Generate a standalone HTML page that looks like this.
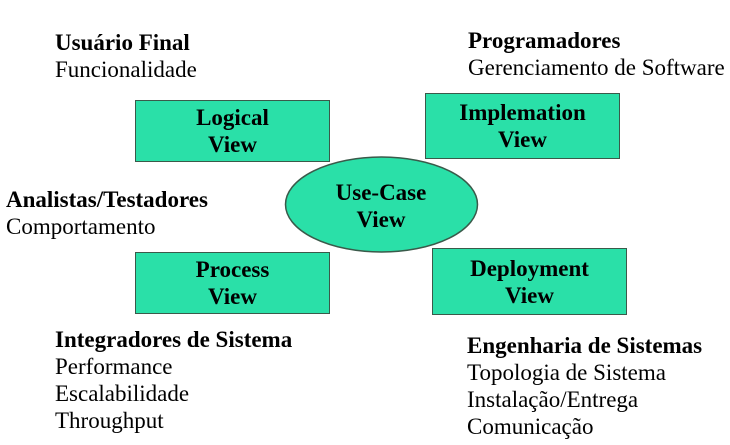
<!DOCTYPE html>
<html><head><meta charset="utf-8"><style>
html,body{margin:0;padding:0;background:#fff;}
body{width:730px;height:445px;position:relative;overflow:hidden;font-family:"Liberation Serif",serif;color:#000;}
.t{position:absolute;font-size:23px;line-height:27px;white-space:nowrap;}
.b{font-weight:bold;}
.box{position:absolute;background:#2ae0a8;border:1.5px solid #3a5a4a;box-sizing:border-box;display:flex;align-items:center;justify-content:center;text-align:center;font-weight:bold;font-size:23px;line-height:27px;}
</style></head><body>
<div class="t" style="left:55px;top:29px"><span class="b">Usuário Final</span><br>Funcionalidade</div>
<div class="t" style="left:468px;top:27px"><span class="b">Programadores</span><br>Gerenciamento de Software</div>
<div class="t" style="left:6px;top:186px"><span class="b">Analistas/Testadores</span><br>Comportamento</div>
<div class="t" style="left:55px;top:326px"><span class="b">Integradores de Sistema</span><br>Performance<br>Escalabilidade<br>Throughput</div>
<div class="t" style="left:467px;top:332px"><span class="b">Engenharia de Sistemas</span><br>Topologia de Sistema<br>Instalação/Entrega<br>Comunicação</div>
<div class="box" style="left:135px;top:100px;width:195px;height:62px">Logical<br>View</div>
<div class="box" style="left:425px;top:93px;width:195px;height:66px">Implemation<br>View</div>
<div class="box" style="left:135px;top:252px;width:195px;height:62px">Process<br>View</div>
<div class="box" style="left:432px;top:248px;width:195px;height:67px">Deployment<br>View</div>
<svg style="position:absolute;left:0;top:0" width="730" height="445">
<ellipse cx="381.5" cy="204.5" rx="96" ry="47.5" fill="#2ae0a8" stroke="#3a5a4a" stroke-width="1.5"/>
<text x="381" y="200" text-anchor="middle" font-family="Liberation Serif" font-weight="bold" font-size="23">Use-Case</text>
<text x="381" y="227" text-anchor="middle" font-family="Liberation Serif" font-weight="bold" font-size="23">View</text>
</svg>
</body></html>
